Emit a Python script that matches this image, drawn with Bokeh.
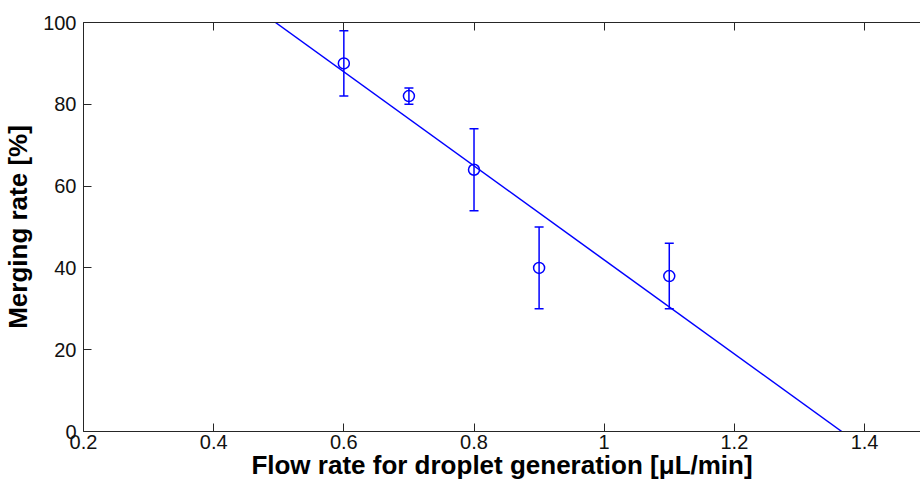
from bokeh.plotting import figure
from bokeh.models import ColumnDataSource, Whisker, LinearAxis, FixedTicker, TeeHead, Range1d
from bokeh.embed import file_html
from bokeh.resources import INLINE

# Data
flow_rate = [0.6, 0.7, 0.8, 0.9, 1.1]
merging_rate = [90, 82, 64, 40, 38]
error = [8, 2, 10, 10, 8]
fit_x = [0.495, 1.365]
fit_y = [100, 0]
x_ticks = [0.2, 0.4, 0.6, 0.8, 1.0, 1.2, 1.4]
x_tick_labels = {0.2: "0.2", 0.4: "0.4", 0.6: "0.6", 0.8: "0.8", 1.0: "1", 1.2: "1.2", 1.4: "1.4"}
y_ticks = [0, 20, 40, 60, 80, 100]

BLUE = "#0000ff"
FONT = "Liberation Sans"

src = ColumnDataSource(dict(
    x=flow_rate, y=merging_rate,
    upper=[m + e for m, e in zip(merging_rate, error)],
    lower=[m - e for m, e in zip(merging_rate, error)],
))

p = figure(width=920, height=483, output_backend="svg", toolbar_location=None,
           x_range=Range1d(0.2, 1.486), y_range=Range1d(0, 100),
           min_border_left=83, min_border_top=22, min_border_right=0, min_border_bottom=52)
p.outline_line_color = None
p.grid.visible = False
p.background_fill_color = "white"
p.border_fill_color = "white"

# fit line
p.line(fit_x, fit_y, line_color=BLUE, line_width=1.5)

# error bars
w = Whisker(source=src, base="x", upper="upper", lower="lower",
            line_color=BLUE, line_width=1.5,
            upper_head=TeeHead(size=9, line_color=BLUE, line_width=1.5),
            lower_head=TeeHead(size=9, line_color=BLUE, line_width=1.5))
p.add_layout(w)
p.scatter("x", "y", source=src, marker="circle", size=11, fill_color=None,
          line_color=BLUE, line_width=1.5)

# axes
xa = p.xaxis[0]
xa.ticker = FixedTicker(ticks=x_ticks)
xa.major_label_overrides = x_tick_labels
xa.axis_label = "Flow rate for droplet generation [\u03bcL/min]"
ya = p.yaxis[0]
ya.ticker = FixedTicker(ticks=y_ticks)
ya.axis_label = "Merging rate [%]"

for ax in (xa, ya):
    ax.major_tick_in = 8
    ax.major_tick_out = 0
    ax.minor_tick_line_color = None
    ax.axis_line_color = "#262626"
    ax.major_tick_line_color = "#262626"
    ax.major_label_text_font = FONT
    ax.major_label_text_font_size = "20px"
    ax.major_label_text_color = "#111111"
    ax.axis_label_text_font = FONT
    ax.axis_label_text_font_size = "26px"
    ax.axis_label_text_font_style = "bold"
    ax.axis_label_text_color = "black"

xa.major_label_standoff = 3
xa.axis_label_standoff = -2
ya.major_label_standoff = 7
ya.axis_label_standoff = 7

top = LinearAxis(ticker=FixedTicker(ticks=x_ticks), major_label_text_font_size="8px",
                 major_label_text_color=None,
                 major_tick_in=8, major_tick_out=0, minor_tick_line_color=None,
                 axis_line_color="#262626", major_tick_line_color="#262626",
                 major_label_standoff=0)
p.add_layout(top, "above")

open("out.html", "w").write(file_html(p, INLINE))
